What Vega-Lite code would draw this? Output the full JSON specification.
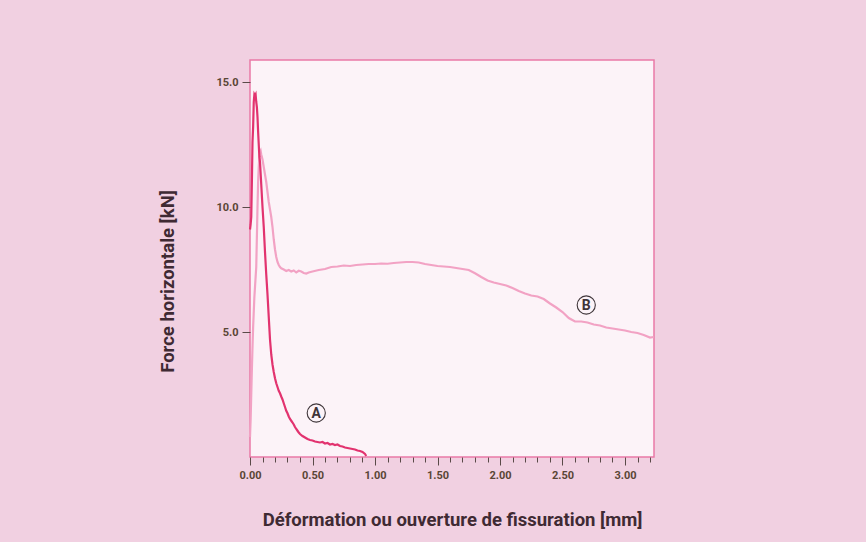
{
  "$schema": "https://vega.github.io/schema/vega-lite/v6.json",
  "width": 404,
  "height": 397,
  "autosize": "none",
  "padding": {"left": 250, "top": 60, "right": 212, "bottom": 85},
  "background": "#f1d0e1",
  "config": {
    "view": {"fill": "#fcf3f8", "stroke": "#e97aa6", "strokeWidth": 1.5},
    "font": "Roboto, sans-serif"
  },
  "datasets": {
    "curves": [
      {"d": 0, "f": 9.1, "s": "A"}, {"d": 0.005, "f": 9.3, "s": "A"}, {"d": 0.01, "f": 9.6, "s": "A"}, {"d": 0.015, "f": 11.0, "s": "A"}, {"d": 0.02, "f": 12.6, "s": "A"}, {"d": 0.025, "f": 13.2, "s": "A"}, {"d": 0.03, "f": 14.2, "s": "A"}, {"d": 0.035, "f": 14.5, "s": "A"}, {"d": 0.04, "f": 14.45, "s": "A"}, {"d": 0.045, "f": 14.5, "s": "A"}, {"d": 0.05, "f": 14.2, "s": "A"}, {"d": 0.055, "f": 14.0, "s": "A"}, {"d": 0.06, "f": 13.6, "s": "A"}, {"d": 0.065, "f": 13.0, "s": "A"}, {"d": 0.07, "f": 12.5, "s": "A"}, {"d": 0.075, "f": 12.0, "s": "A"}, {"d": 0.08, "f": 11.8, "s": "A"}, {"d": 0.09, "f": 10.9, "s": "A"}, {"d": 0.1, "f": 10.0, "s": "A"}, {"d": 0.11, "f": 9.2, "s": "A"}, {"d": 0.12, "f": 8.2, "s": "A"}, {"d": 0.13, "f": 7.3, "s": "A"}, {"d": 0.14, "f": 6.5, "s": "A"}, {"d": 0.15, "f": 5.6, "s": "A"}, {"d": 0.16, "f": 4.7, "s": "A"}, {"d": 0.17, "f": 4.1, "s": "A"}, {"d": 0.18, "f": 3.7, "s": "A"}, {"d": 0.19, "f": 3.4, "s": "A"}, {"d": 0.2, "f": 3.15, "s": "A"}, {"d": 0.21, "f": 2.95, "s": "A"}, {"d": 0.22, "f": 2.8, "s": "A"}, {"d": 0.23, "f": 2.65, "s": "A"}, {"d": 0.24, "f": 2.55, "s": "A"}, {"d": 0.25, "f": 2.42, "s": "A"}, {"d": 0.26, "f": 2.3, "s": "A"}, {"d": 0.27, "f": 2.15, "s": "A"}, {"d": 0.28, "f": 2.0, "s": "A"}, {"d": 0.29, "f": 1.85, "s": "A"}, {"d": 0.30, "f": 1.75, "s": "A"}, {"d": 0.31, "f": 1.62, "s": "A"}, {"d": 0.32, "f": 1.52, "s": "A"}, {"d": 0.33, "f": 1.45, "s": "A"}, {"d": 0.34, "f": 1.38, "s": "A"}, {"d": 0.35, "f": 1.3, "s": "A"}, {"d": 0.36, "f": 1.2, "s": "A"}, {"d": 0.37, "f": 1.12, "s": "A"}, {"d": 0.38, "f": 1.05, "s": "A"}, {"d": 0.39, "f": 0.98, "s": "A"}, {"d": 0.40, "f": 0.92, "s": "A"}, {"d": 0.42, "f": 0.84, "s": "A"}, {"d": 0.44, "f": 0.78, "s": "A"}, {"d": 0.46, "f": 0.72, "s": "A"}, {"d": 0.48, "f": 0.68, "s": "A"}, {"d": 0.50, "f": 0.66, "s": "A"}, {"d": 0.52, "f": 0.62, "s": "A"}, {"d": 0.54, "f": 0.6, "s": "A"}, {"d": 0.56, "f": 0.58, "s": "A"}, {"d": 0.58, "f": 0.6, "s": "A"}, {"d": 0.60, "f": 0.54, "s": "A"}, {"d": 0.62, "f": 0.56, "s": "A"}, {"d": 0.64, "f": 0.5, "s": "A"}, {"d": 0.66, "f": 0.52, "s": "A"}, {"d": 0.68, "f": 0.48, "s": "A"}, {"d": 0.70, "f": 0.5, "s": "A"}, {"d": 0.72, "f": 0.44, "s": "A"}, {"d": 0.74, "f": 0.42, "s": "A"}, {"d": 0.76, "f": 0.38, "s": "A"}, {"d": 0.78, "f": 0.36, "s": "A"}, {"d": 0.80, "f": 0.34, "s": "A"}, {"d": 0.82, "f": 0.32, "s": "A"}, {"d": 0.84, "f": 0.3, "s": "A"}, {"d": 0.86, "f": 0.26, "s": "A"}, {"d": 0.88, "f": 0.24, "s": "A"}, {"d": 0.90, "f": 0.2, "s": "A"}, {"d": 0.92, "f": 0.12, "s": "A"}, {"d": 0.93, "f": 0.04, "s": "A"},
      {"d": 0, "f": 0.8, "s": "B"}, {"d": 0.005, "f": 1.5, "s": "B"}, {"d": 0.01, "f": 2.5, "s": "B"}, {"d": 0.015, "f": 3.5, "s": "B"}, {"d": 0.02, "f": 4.4, "s": "B"}, {"d": 0.025, "f": 5.2, "s": "B"}, {"d": 0.03, "f": 5.8, "s": "B"}, {"d": 0.035, "f": 6.4, "s": "B"}, {"d": 0.04, "f": 6.8, "s": "B"}, {"d": 0.045, "f": 7.2, "s": "B"}, {"d": 0.05, "f": 7.6, "s": "B"}, {"d": 0.055, "f": 8.8, "s": "B"}, {"d": 0.06, "f": 10.0, "s": "B"}, {"d": 0.065, "f": 11.0, "s": "B"}, {"d": 0.07, "f": 11.6, "s": "B"}, {"d": 0.075, "f": 12.0, "s": "B"}, {"d": 0.08, "f": 12.2, "s": "B"}, {"d": 0.085, "f": 12.25, "s": "B"}, {"d": 0.09, "f": 12.1, "s": "B"}, {"d": 0.1, "f": 11.9, "s": "B"}, {"d": 0.11, "f": 11.6, "s": "B"}, {"d": 0.12, "f": 11.3, "s": "B"}, {"d": 0.13, "f": 11.0, "s": "B"}, {"d": 0.14, "f": 10.6, "s": "B"}, {"d": 0.15, "f": 10.2, "s": "B"}, {"d": 0.16, "f": 9.9, "s": "B"}, {"d": 0.17, "f": 9.6, "s": "B"}, {"d": 0.18, "f": 9.2, "s": "B"}, {"d": 0.19, "f": 8.7, "s": "B"}, {"d": 0.2, "f": 8.3, "s": "B"}, {"d": 0.21, "f": 8.0, "s": "B"}, {"d": 0.22, "f": 7.8, "s": "B"}, {"d": 0.23, "f": 7.68, "s": "B"}, {"d": 0.24, "f": 7.6, "s": "B"}, {"d": 0.25, "f": 7.55, "s": "B"}, {"d": 0.27, "f": 7.5, "s": "B"}, {"d": 0.29, "f": 7.44, "s": "B"}, {"d": 0.31, "f": 7.48, "s": "B"}, {"d": 0.33, "f": 7.42, "s": "B"}, {"d": 0.35, "f": 7.46, "s": "B"}, {"d": 0.37, "f": 7.38, "s": "B"}, {"d": 0.39, "f": 7.45, "s": "B"}, {"d": 0.41, "f": 7.42, "s": "B"}, {"d": 0.43, "f": 7.36, "s": "B"}, {"d": 0.45, "f": 7.34, "s": "B"}, {"d": 0.47, "f": 7.38, "s": "B"}, {"d": 0.5, "f": 7.42, "s": "B"}, {"d": 0.55, "f": 7.48, "s": "B"}, {"d": 0.6, "f": 7.52, "s": "B"}, {"d": 0.65, "f": 7.6, "s": "B"}, {"d": 0.7, "f": 7.62, "s": "B"}, {"d": 0.75, "f": 7.66, "s": "B"}, {"d": 0.8, "f": 7.64, "s": "B"}, {"d": 0.85, "f": 7.68, "s": "B"}, {"d": 0.9, "f": 7.7, "s": "B"}, {"d": 0.95, "f": 7.72, "s": "B"}, {"d": 1.0, "f": 7.72, "s": "B"}, {"d": 1.05, "f": 7.74, "s": "B"}, {"d": 1.1, "f": 7.73, "s": "B"}, {"d": 1.15, "f": 7.76, "s": "B"}, {"d": 1.2, "f": 7.78, "s": "B"}, {"d": 1.25, "f": 7.8, "s": "B"}, {"d": 1.3, "f": 7.8, "s": "B"}, {"d": 1.35, "f": 7.78, "s": "B"}, {"d": 1.4, "f": 7.72, "s": "B"}, {"d": 1.45, "f": 7.68, "s": "B"}, {"d": 1.5, "f": 7.64, "s": "B"}, {"d": 1.55, "f": 7.62, "s": "B"}, {"d": 1.6, "f": 7.6, "s": "B"}, {"d": 1.65, "f": 7.56, "s": "B"}, {"d": 1.7, "f": 7.52, "s": "B"}, {"d": 1.75, "f": 7.48, "s": "B"}, {"d": 1.8, "f": 7.35, "s": "B"}, {"d": 1.85, "f": 7.2, "s": "B"}, {"d": 1.9, "f": 7.06, "s": "B"}, {"d": 1.95, "f": 6.98, "s": "B"}, {"d": 2.0, "f": 6.92, "s": "B"}, {"d": 2.05, "f": 6.86, "s": "B"}, {"d": 2.1, "f": 6.76, "s": "B"}, {"d": 2.15, "f": 6.64, "s": "B"}, {"d": 2.2, "f": 6.54, "s": "B"}, {"d": 2.25, "f": 6.46, "s": "B"}, {"d": 2.3, "f": 6.42, "s": "B"}, {"d": 2.35, "f": 6.32, "s": "B"}, {"d": 2.4, "f": 6.14, "s": "B"}, {"d": 2.45, "f": 5.98, "s": "B"}, {"d": 2.5, "f": 5.8, "s": "B"}, {"d": 2.55, "f": 5.56, "s": "B"}, {"d": 2.6, "f": 5.42, "s": "B"}, {"d": 2.65, "f": 5.42, "s": "B"}, {"d": 2.7, "f": 5.38, "s": "B"}, {"d": 2.75, "f": 5.3, "s": "B"}, {"d": 2.8, "f": 5.26, "s": "B"}, {"d": 2.85, "f": 5.18, "s": "B"}, {"d": 2.9, "f": 5.14, "s": "B"}, {"d": 2.95, "f": 5.1, "s": "B"}, {"d": 3.0, "f": 5.06, "s": "B"}, {"d": 3.05, "f": 5.0, "s": "B"}, {"d": 3.1, "f": 4.96, "s": "B"}, {"d": 3.15, "f": 4.88, "s": "B"}, {"d": 3.2, "f": 4.78, "s": "B"}, {"d": 3.23, "f": 4.8, "s": "B"}
    ],
    "labels": [
      {"d": 0.53, "f": 1.76, "label": "A"},
      {"d": 2.69, "f": 6.08, "label": "B"}
    ]
  },
  "encoding": {
    "x": {
      "field": "d", "type": "quantitative",
      "scale": {"domain": [0, 3.232], "nice": false, "zero": false},
      "axis": {
        "title": "Déformation ou ouverture de fissuration [mm]",
        "values": [0, 0.1, 0.2, 0.3, 0.4, 0.5, 0.6, 0.7, 0.8, 0.9, 1.0, 1.1, 1.2, 1.3, 1.4, 1.5, 1.6, 1.7, 1.8, 1.9, 2.0, 2.1, 2.2, 2.3, 2.4, 2.5, 2.6, 2.7, 2.8, 2.9, 3.0, 3.1, 3.2],
        "labelExpr": "abs(datum.value*2 - round(datum.value*2)) < 0.001 ? format(datum.value, '.2f') : ''",
        "tickSize": {"expr": "abs(datum.value*2 - round(datum.value*2)) < 0.001 ? 8 : 5"},
        "tickColor": "#5a4a48", "tickWidth": 1,
        "domain": false, "grid": false,
        "labelFont": "Roboto, sans-serif",
        "labelFontSize": 11, "labelFontWeight": "bold", "labelColor": "#5a4636",
        "labelPadding": 4, "labelFlush": false, "labelOverlap": false,
        "titleFont": "Roboto, sans-serif",
        "titleFontSize": 18.5, "titleFontWeight": "bold", "titleColor": "#3f2a33",
        "titlePadding": 30
      }
    },
    "y": {
      "field": "f", "type": "quantitative",
      "scale": {"domain": [0, 15.88], "nice": false, "zero": false},
      "axis": {
        "title": "Force horizontale [kN]",
        "values": [5, 10, 15],
        "format": ".1f",
        "tickSize": 8, "tickColor": "#5a4a48", "tickWidth": 1,
        "domain": false, "grid": false,
        "labelFont": "Roboto, sans-serif",
        "labelFontSize": 11, "labelFontWeight": "bold", "labelColor": "#5a4636",
        "labelPadding": 4,
        "titleFont": "Roboto, sans-serif",
        "titleFontSize": 18.5, "titleFontWeight": "bold", "titleColor": "#3f2a33",
        "titlePadding": 38,
        "titleY": 221
      }
    }
  },
  "layer": [
    {
      "data": {"name": "curves"},
      "transform": [{"filter": "datum.s === 'B'"}],
      "mark": {"type": "line", "color": "#f2a2c4", "strokeWidth": 2.2}
    },
    {
      "data": {"name": "curves"},
      "transform": [{"filter": "datum.s === 'A'"}],
      "mark": {"type": "line", "color": "#e2336f", "strokeWidth": 2.2}
    },
    {
      "data": {"name": "labels"},
      "mark": {"type": "point", "shape": "circle", "filled": true, "fill": "#fcf3f8", "stroke": "#3f363a", "strokeWidth": 1.1, "size": 330, "opacity": 1}
    },
    {
      "data": {"name": "labels"},
      "mark": {"type": "text", "font": "Roboto, sans-serif", "fontWeight": "bold", "fontSize": 14, "color": "#3f3438", "baseline": "middle", "align": "center", "dy": 1},
      "encoding": {"text": {"field": "label"}}
    }
  ]
}
